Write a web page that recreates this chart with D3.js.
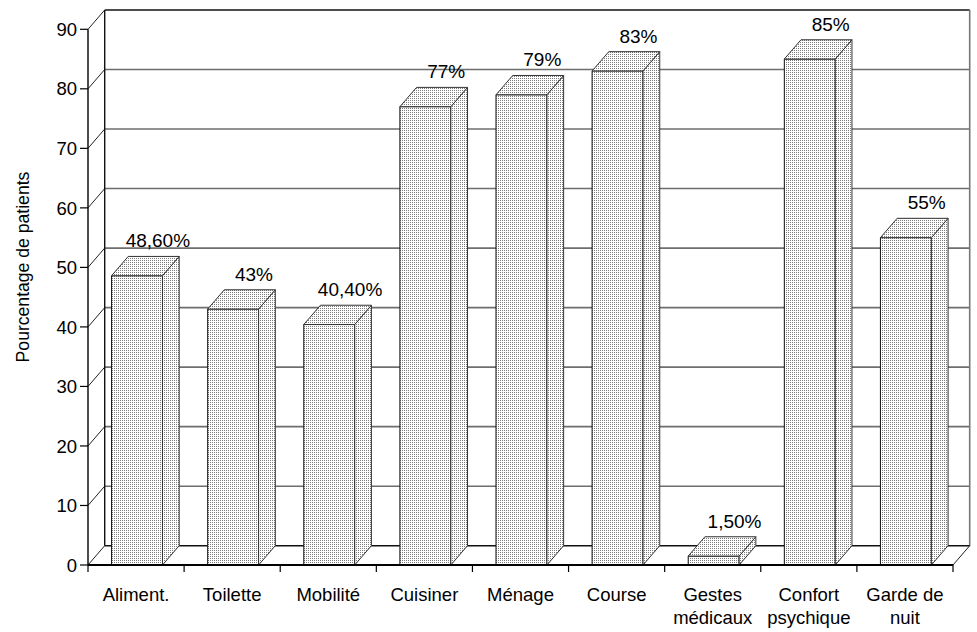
<!DOCTYPE html>
<html>
<head>
<meta charset="utf-8">
<script src="https://cdn.jsdelivr.net/npm/d3@7"></script>
<style>
  html, body { margin: 0; padding: 0; background: #fff; }
  svg { display: block; font-family: "Liberation Sans", Arial, sans-serif; }
</style>
</head>
<body>
<svg id="chart" width="977" height="632"></svg>
<script>
// Catégories (une ligne de texte par élément)
const categories = ["Aliment.", "Toilette", "Mobilité", "Cuisiner", "Ménage", "Course",
                    "Gestes médicaux", "Confort psychique", "Garde de nuit"];
const categoryLines = [["Aliment."], ["Toilette"], ["Mobilité"], ["Cuisiner"], ["Ménage"],
                       ["Course"], ["Gestes", "médicaux"], ["Confort", "psychique"], ["Garde de", "nuit"]];
const values = [48.6, 43, 40.4, 77, 79, 83, 1.5, 85, 55];
const valueLabels = ["48,60%", "43%", "40,40%", "77%", "79%", "83%", "1,50%", "85%", "55%"];
const yTicks = [0, 10, 20, 30, 40, 50, 60, 70, 80, 90];
const yTitle = "Pourcentage de patients";

(function () {
const svg = d3.select("#chart");

// Plan frontal et profondeur de la projection
const plotL = 88, plotR = 953, plotB = 565, plotT = 29.3;
const depthX = 16.7, depthY = -19.3;

const x = d3.scaleBand().domain(categories).range([plotL, plotR]).padding(0);
const y = d3.scaleLinear().domain([0, 90]).range([plotB, plotT]);
const barOffset = x.bandwidth() * 0.245;
const barW = x.bandwidth() * 0.53;

// Motif pointillé des barres
const defs = svg.append("defs");
const pat = defs.append("pattern").attr("id", "dots")
  .attr("width", 2).attr("height", 2).attr("patternUnits", "userSpaceOnUse");
pat.append("rect").attr("width", 2).attr("height", 2).attr("fill", "#ffffff");
pat.append("rect").attr("x", 0).attr("y", 0).attr("width", 1).attr("height", 1).attr("fill", "#7c7c7c");

const pts = a => a.map(p => p.join(",")).join(" ");

// Mur du fond
const wallL = plotL + depthX, wallR = plotR + depthX;
svg.append("g").selectAll("line")
  .data(yTicks.filter(t => t > 0 && t < 90))
  .join("line")
  .attr("x1", wallL).attr("x2", wallR)
  .attr("y1", d => y(d) + depthY).attr("y2", d => y(d) + depthY)
  .attr("stroke", "#6e6e6e").attr("stroke-width", 1.6);

// Mur latéral : diagonales de graduation
svg.append("g").selectAll("line")
  .data(yTicks)
  .join("line")
  .attr("x1", plotL).attr("y1", d => y(d))
  .attr("x2", wallL).attr("y2", d => y(d) + depthY)
  .attr("stroke", "#222").attr("stroke-width", 1);

// Bordures du mur du fond
svg.append("line").attr("x1", wallL).attr("x2", wallR)
  .attr("y1", y(90) + depthY).attr("y2", y(90) + depthY)
  .attr("stroke", "#111").attr("stroke-width", 1.4);
svg.append("line").attr("x1", wallL).attr("x2", wallL)
  .attr("y1", y(90) + depthY).attr("y2", y(0) + depthY)
  .attr("stroke", "#111").attr("stroke-width", 1.4);
svg.append("line").attr("x1", wallR).attr("x2", wallR)
  .attr("y1", y(90) + depthY).attr("y2", y(0) + depthY)
  .attr("stroke", "#777").attr("stroke-width", 1.6);
// Sol
svg.append("line").attr("x1", wallL).attr("x2", wallR)
  .attr("y1", y(0) + depthY).attr("y2", y(0) + depthY)
  .attr("stroke", "#111").attr("stroke-width", 1.4);
svg.append("line").attr("x1", plotR).attr("y1", y(0))
  .attr("x2", wallR).attr("y2", y(0) + depthY)
  .attr("stroke", "#222").attr("stroke-width", 1);

// Barres 3D
const bars = svg.append("g").selectAll("g")
  .data(categories.map((c, i) => ({ c, v: values[i], label: valueLabels[i] })))
  .join("g");

bars.each(function (d) {
  const g = d3.select(this);
  const x0 = x(d.c) + barOffset, x1 = x0 + barW;
  const yb = y(0), yt = y(d.v);
  // face avant
  g.append("polygon").attr("points", pts([[x0, yt], [x1, yt], [x1, yb], [x0, yb]]))
    .attr("fill", "url(#dots)").attr("stroke", "#111").attr("stroke-width", 1);
  // face latérale
  g.append("polygon").attr("points", pts([[x1, yt], [x1 + depthX, yt + depthY], [x1 + depthX, yb + depthY], [x1, yb]]))
    .attr("fill", "url(#dots)").attr("stroke", "#333").attr("stroke-width", 1);
  // dessus
  g.append("polygon").attr("points", pts([[x0, yt], [x0 + depthX, yt + depthY], [x1 + depthX, yt + depthY], [x1, yt]]))
    .attr("fill", "url(#dots)").attr("stroke", "#333").attr("stroke-width", 1);
  // étiquette de valeur
  g.append("text")
    .attr("x", x0 + barW / 2 + depthX / 2 + 12.5)
    .attr("y", yt + depthY - 9)
    .attr("text-anchor", "middle")
    .attr("font-size", 19).attr("fill", "#000")
    .text(d.label);
});

// Axe horizontal (bord avant du sol)
svg.append("line").attr("x1", plotL).attr("x2", plotR)
  .attr("y1", plotB).attr("y2", plotB)
  .attr("stroke", "#000").attr("stroke-width", 2);
const bounds = categories.map(c => x(c)).concat([plotR]);
svg.append("g").selectAll("line")
  .data(bounds).join("line")
  .attr("x1", d => d).attr("x2", d => d)
  .attr("y1", plotB).attr("y2", plotB + 7)
  .attr("stroke", "#000").attr("stroke-width", 1.2);

svg.append("g").selectAll("text")
  .data(categories.map((c, i) => ({ c, lines: categoryLines[i] })))
  .join("text")
  .attr("text-anchor", "middle")
  .attr("font-size", 18.5).attr("fill", "#000")
  .each(function (d) {
    const t = d3.select(this);
    d.lines.forEach((ln, k) => {
      t.append("tspan")
        .attr("x", x(d.c) + x.bandwidth() / 2)
        .attr("y", 601 + k * 22.5)
        .text(ln);
    });
  });

// Axe vertical
svg.append("line").attr("x1", plotL).attr("x2", plotL)
  .attr("y1", plotT).attr("y2", plotB)
  .attr("stroke", "#000").attr("stroke-width", 1.4);
svg.append("g").selectAll("line")
  .data(yTicks).join("line")
  .attr("x1", plotL - 8).attr("x2", plotL)
  .attr("y1", d => y(d)).attr("y2", d => y(d))
  .attr("stroke", "#000").attr("stroke-width", 1.2);
svg.append("g").selectAll("text")
  .data(yTicks).join("text")
  .attr("x", plotL - 11).attr("y", d => y(d))
  .attr("dy", "0.36em")
  .attr("text-anchor", "end")
  .attr("font-size", 18.5).attr("fill", "#000")
  .text(d => d);

svg.append("text")
  .attr("transform", "translate(28.5,267) rotate(-90)")
  .attr("text-anchor", "middle")
  .attr("font-size", 17.6).attr("fill", "#000")
  .text(yTitle);
})();
</script>
</body>
</html>
